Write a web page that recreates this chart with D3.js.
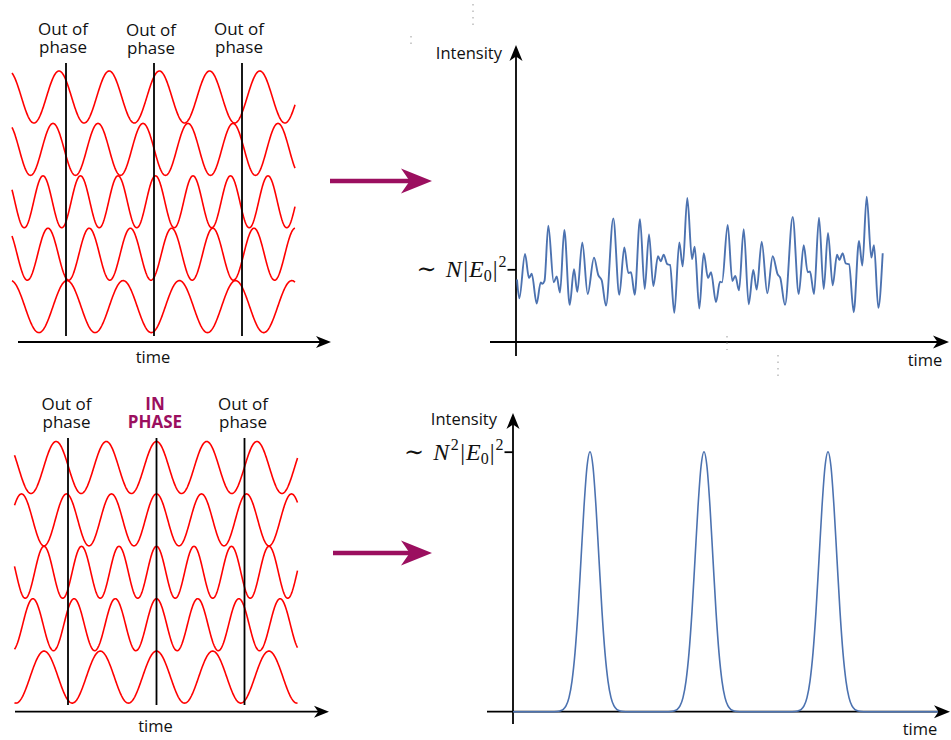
<!DOCTYPE html>
<html><head><meta charset="utf-8">
<script src="https://cdn.jsdelivr.net/npm/d3@7"></script>
<style>body{margin:0;background:#fff}svg{display:block}</style>
</head><body><svg id="c" width="951" height="740"></svg>
<script>
// ---------------- DATA ----------------
const phaseLabelsTop = [["Out of", "phase"], ["Out of", "phase"], ["Out of", "phase"]];
const phaseLabelsBottom = [["Out of", "phase"], ["IN", "PHASE"], ["Out of", "phase"]];
const markerTimesTop = [54, 142, 230];
const markerTimesBottom = [53.5, 142, 230];
const waveRows = [0, 1, 2, 3, 4];
const wavePeriods = [50.2, 45, 37.5, 41.2, 56.2];
const crestTimesTop = [47, 41, 31, 36, 55];
const crestTimesBottom = [142, 142, 142, 142, 142];

const noiseTime = [1, 3.3, 9, 13, 15.7, 20.7, 24.7, 26.3, 28.5, 32.3, 37.7, 40.7, 44, 48.3, 53.7, 58, 61.3, 66.3, 71.7, 78, 82.3, 85.7, 90, 97.3, 103.3, 108.3, 112.3, 115, 118.7, 124, 128.7, 133, 137.3, 142, 144.7, 147.7, 151.3, 154, 158.3, 163.3, 166.7, 171.3, 176, 178.7, 183.3, 187.7, 192, 195, 200, 204, 206, 211.7, 216.3, 219.3, 223, 227.7, 232.7, 237.3, 240.7, 245.7, 251.3, 256.7, 261.7, 264.3, 269, 276.7, 282.7, 287.7, 291.7, 294, 298, 303, 307.7, 312, 316.7, 321, 323.3, 326.7, 329.7, 333, 337.7, 343, 346.3, 350.7, 355.3, 358, 362.3, 366.7];
const noiseIntensity = [0.86, 0.6, 1.21, 0.88, 0.94, 0.53, 0.82, 0.8, 0.84, 1.6, 0.82, 0.9, 0.68, 1.54, 0.51, 1.0, 0.69, 1.37, 0.66, 1.16, 0.92, 0.85, 0.5, 1.7, 0.65, 1.3, 0.95, 0.96, 0.65, 1.69, 0.73, 1.48, 0.77, 1.18, 1.11, 1.2, 1.07, 1.06, 0.4, 1.37, 1.04, 1.98, 1.14, 1.31, 0.46, 1.22, 0.88, 0.96, 0.55, 0.83, 0.82, 1.61, 0.84, 0.91, 0.71, 1.55, 0.52, 0.99, 0.72, 1.38, 0.67, 1.18, 0.93, 0.88, 0.51, 1.72, 0.66, 1.33, 0.96, 0.97, 0.66, 1.71, 0.73, 1.5, 0.78, 1.2, 1.13, 1.22, 1.08, 1.07, 0.41, 1.39, 1.05, 2.0, 1.16, 1.33, 0.47, 1.22];

const pulseTime = [0,
  41, 47, 50, 53, 56, 59, 62, 65, 68, 71, 74, 77, 80, 83, 86, 89, 92, 95, 98, 101, 104, 107, 113,
  155, 161, 164, 167, 170, 173, 176, 179, 182, 185, 188, 191, 194, 197, 200, 203, 206, 209, 212, 215, 218, 221, 227,
  279, 285, 288, 291, 294, 297, 300, 303, 306, 309, 312, 315, 318, 321, 324, 327, 330, 333, 336, 339, 342, 345, 351,
  425];
const pulseIntensity = [0,
  0, 0.003, 0.008, 0.022, 0.054, 0.118, 0.226, 0.386, 0.586, 0.788, 0.942, 1, 0.942, 0.788, 0.586, 0.386, 0.226, 0.118, 0.054, 0.022, 0.008, 0.003, 0,
  0, 0.003, 0.008, 0.022, 0.054, 0.118, 0.226, 0.386, 0.586, 0.788, 0.942, 1, 0.942, 0.788, 0.586, 0.386, 0.226, 0.118, 0.054, 0.022, 0.008, 0.003, 0,
  0, 0.003, 0.008, 0.022, 0.054, 0.118, 0.226, 0.386, 0.586, 0.788, 0.942, 1, 0.942, 0.788, 0.586, 0.386, 0.226, 0.118, 0.054, 0.022, 0.008, 0.003, 0,
  0];

const axisLabelX = "time";
const axisLabelY = "Intensity";

// ---------------- STYLE ----------------
const RED = "#ff0000", BLUE = "#4c72b0", MAG = "#9b0f5f", BLACK = "#000";
const SANS = "'Open Sans', sans-serif";
const SERIF = "'Liberation Serif', 'DejaVu Serif', serif";

const svg = d3.select("#c");
svg.append("rect").attr("width", 951).attr("height", 740).attr("fill", "#fff");

function arrowHead(g, tx, ty, dir, L, W, fill) {
  let p;
  if (dir === "right") p = `M${tx},${ty} L${tx - L},${ty - W} L${tx - L * 0.72},${ty} L${tx - L},${ty + W} Z`;
  else p = `M${tx},${ty} L${tx - W},${ty + L} L${tx},${ty + L * 0.72} L${tx + W},${ty + L} Z`;
  g.append("path").attr("d", p).attr("fill", fill);
}

// ---------------- LEFT PANELS (waves) ----------------
function wavePanel(cfg) {
  const g = svg.append("g");
  const x = d3.scaleLinear().domain([0, 283]).range([cfg.x0, cfg.x0 + 283]);
  const rowY = d3.scalePoint().domain(waveRows).range([cfg.yc0, cfg.yc0 + 52.4 * 4]);
  const ts = d3.range(0, 283.5, 0.5);
  waveRows.forEach((r, i) => {
    const y = d3.scaleLinear().domain([-1, 1]).range([rowY(r) + 26, rowY(r) - 26]);
    const line = d3.line().x(t => x(t)).y(t => y(Math.cos(2 * Math.PI * (t - cfg.crests[i]) / wavePeriods[i])));
    g.append("path").attr("d", line(ts)).attr("fill", "none").attr("stroke", RED).attr("stroke-width", 1.6);
  });
  cfg.markers.forEach((t, i) => {
    g.append("line").attr("x1", x(t)).attr("x2", x(t)).attr("y1", cfg.lineTop).attr("y2", cfg.lineBot)
      .attr("stroke", BLACK).attr("stroke-width", 1.8);
    const lab = cfg.labels[i];
    const isIn = lab[0] === "IN";
    const dy = cfg.labDy ? cfg.labDy[i] : 0;
    [lab[0], lab[1]].forEach((s, k) => {
      g.append("text").attr("x", x(t) + cfg.labelDx).attr("y", (k ? cfg.lab2 : cfg.lab1) + dy)
        .attr("text-anchor", "middle").attr("font-family", SANS).attr("font-size", 17)
        .attr("font-weight", isIn ? 700 : 400).attr("fill", isIn ? MAG : "#111").text(s);
    });
  });
  g.append("line").attr("x1", cfg.ax0).attr("x2", cfg.axTip - 8).attr("y1", cfg.axY).attr("y2", cfg.axY)
    .attr("stroke", BLACK).attr("stroke-width", 1.8);
  arrowHead(g, cfg.axTip, cfg.axY, "right", 15, 6, BLACK);
  g.append("text").attr("x", cfg.timeX).attr("y", cfg.timeY).attr("text-anchor", "middle")
    .attr("font-family", SANS).attr("font-size", 16.5).attr("fill", "#111").text(axisLabelX);
}

wavePanel({x0: 12, yc0: 97, crests: crestTimesTop, markers: markerTimesTop, labels: phaseLabelsTop,
  lineTop: 63, lineBot: 336, labelDx: -3, lab1: 34.5, lab2: 52.5, labDy: [0, 1.5, 0],
  ax0: 18, axTip: 331, axY: 342, timeX: 153, timeY: 363});
wavePanel({x0: 14.5, yc0: 467.5, crests: crestTimesBottom, markers: markerTimesBottom, labels: phaseLabelsBottom,
  lineTop: 438, lineBot: 705, labelDx: -1.5, lab1: 409.5, lab2: 427.5,
  ax0: 15, axTip: 329, axY: 711.7, timeX: 155.5, timeY: 732});

// ---------------- MAGENTA ARROWS ----------------
[[330, 432, 181], [333, 432, 553]].forEach(([x0, x1, y]) => {
  svg.append("line").attr("x1", x0).attr("x2", x1 - 20).attr("y1", y).attr("y2", y)
    .attr("stroke", MAG).attr("stroke-width", 4.5);
  arrowHead(svg, x1, y, "right", 31, 12.5, MAG);
});

// ---------------- RIGHT PANELS ----------------
function mathLabel(g, xEnd, yBase, squaredN) {
  const t = g.append("text").attr("x", xEnd).attr("y", yBase).attr("text-anchor", "end")
    .attr("font-family", SERIF).attr("font-size", 24).attr("fill", "#111");
  t.append("tspan").text("\u223C");
  t.append("tspan").attr("dx", 9).attr("font-style", "italic").text("N");
  if (squaredN) t.append("tspan").attr("font-size", 16).attr("dx", 1.5).attr("dy", -10).text("2");
  t.append("tspan").attr("dx", 1.5).attr("dy", squaredN ? 10 : 0).text("|");
  t.append("tspan").attr("dx", 1).attr("font-style", "italic").text("E");
  t.append("tspan").attr("font-size", 16).attr("dy", 4).text("0");
  t.append("tspan").attr("dx", 1).attr("dy", -4).text("|");
  t.append("tspan").attr("font-size", 16).attr("dx", 1).attr("dy", -10).text("2");
}

function rightPanel(cfg) {
  const g = svg.append("g");
  const x = d3.scaleLinear().domain(cfg.xDomain).range([cfg.yAxX, cfg.yAxX + (cfg.xDomain[1] - cfg.xDomain[0])]);
  const y = d3.scaleLinear().domain(cfg.yDomain).range([cfg.xAxY, cfg.yTop]);
  g.append("line").attr("x1", cfg.xAx0).attr("x2", cfg.xTip - 8).attr("y1", cfg.xAxY).attr("y2", cfg.xAxY)
    .attr("stroke", BLACK).attr("stroke-width", 1.8);
  arrowHead(g, cfg.xTip, cfg.xAxY, "right", 16, 6.5, BLACK);
  g.append("line").attr("x1", cfg.yAxX).attr("x2", cfg.yAxX).attr("y1", cfg.yAxBot).attr("y2", cfg.yTip + 8)
    .attr("stroke", BLACK).attr("stroke-width", 1.8);
  arrowHead(g, cfg.yAxX, cfg.yTip, "up", 16, 6.5, BLACK);
  const ax = g.append("g").attr("transform", `translate(${cfg.yAxX},0)`)
    .call(d3.axisLeft(y).tickValues([1]).tickSize(8.5).tickFormat(""));
  ax.select(".domain").remove();
  ax.selectAll(".tick line").attr("stroke", BLACK).attr("stroke-width", 1.8);
  mathLabel(g, cfg.yAxX - 9.5, y(1) + cfg.mathDy, cfg.squaredN);
  const line = d3.line().x(d => x(d[0])).y(d => y(d[1])).curve(d3.curveMonotoneX);
  g.append("path").attr("d", line(d3.zip(cfg.times, cfg.vals))).attr("fill", "none")
    .attr("stroke", BLUE).attr("stroke-width", cfg.lw).attr("stroke-linejoin", "round");
  g.append("text").attr("x", cfg.intX).attr("y", cfg.intY).attr("text-anchor", "end")
    .attr("font-family", SANS).attr("font-size", 16.5).attr("fill", "#111").text(axisLabelY);
  g.append("text").attr("x", cfg.timeX).attr("y", cfg.timeY).attr("text-anchor", "middle")
    .attr("font-family", SANS).attr("font-size", 16.5).attr("fill", "#111").text(axisLabelX);
}

rightPanel({xDomain: [0, 420], yDomain: [0, 1], yAxX: 516, xAxY: 342, yTop: 269.3,
  xAx0: 490, xTip: 949, yAxBot: 356, yTip: 45, times: noiseTime, vals: noiseIntensity, lw: 1.9,
  squaredN: false, mathDy: 8, intX: 502, intY: 59, timeX: 925, timeY: 366});
rightPanel({xDomain: [0, 425], yDomain: [0, 1], yAxX: 513, xAxY: 711.7, yTop: 451.7,
  xAx0: 487, xTip: 950, yAxBot: 724, yTip: 413, times: pulseTime, vals: pulseIntensity, lw: 1.6,
  squaredN: true, mathDy: 8, intX: 497, intY: 425, timeX: 920, timeY: 735});

// small grey stray marks present in the original figure
[[473, 4, 26], [411, 36, 46], [727, 336, 350], [778, 355, 379]].forEach(([xx, y0, y1]) => {
  svg.append("line").attr("x1", xx).attr("x2", xx).attr("y1", y0).attr("y2", y1)
    .attr("stroke", "#999").attr("stroke-width", 1).attr("stroke-dasharray", "1.5,5");
});
</script></body></html>
